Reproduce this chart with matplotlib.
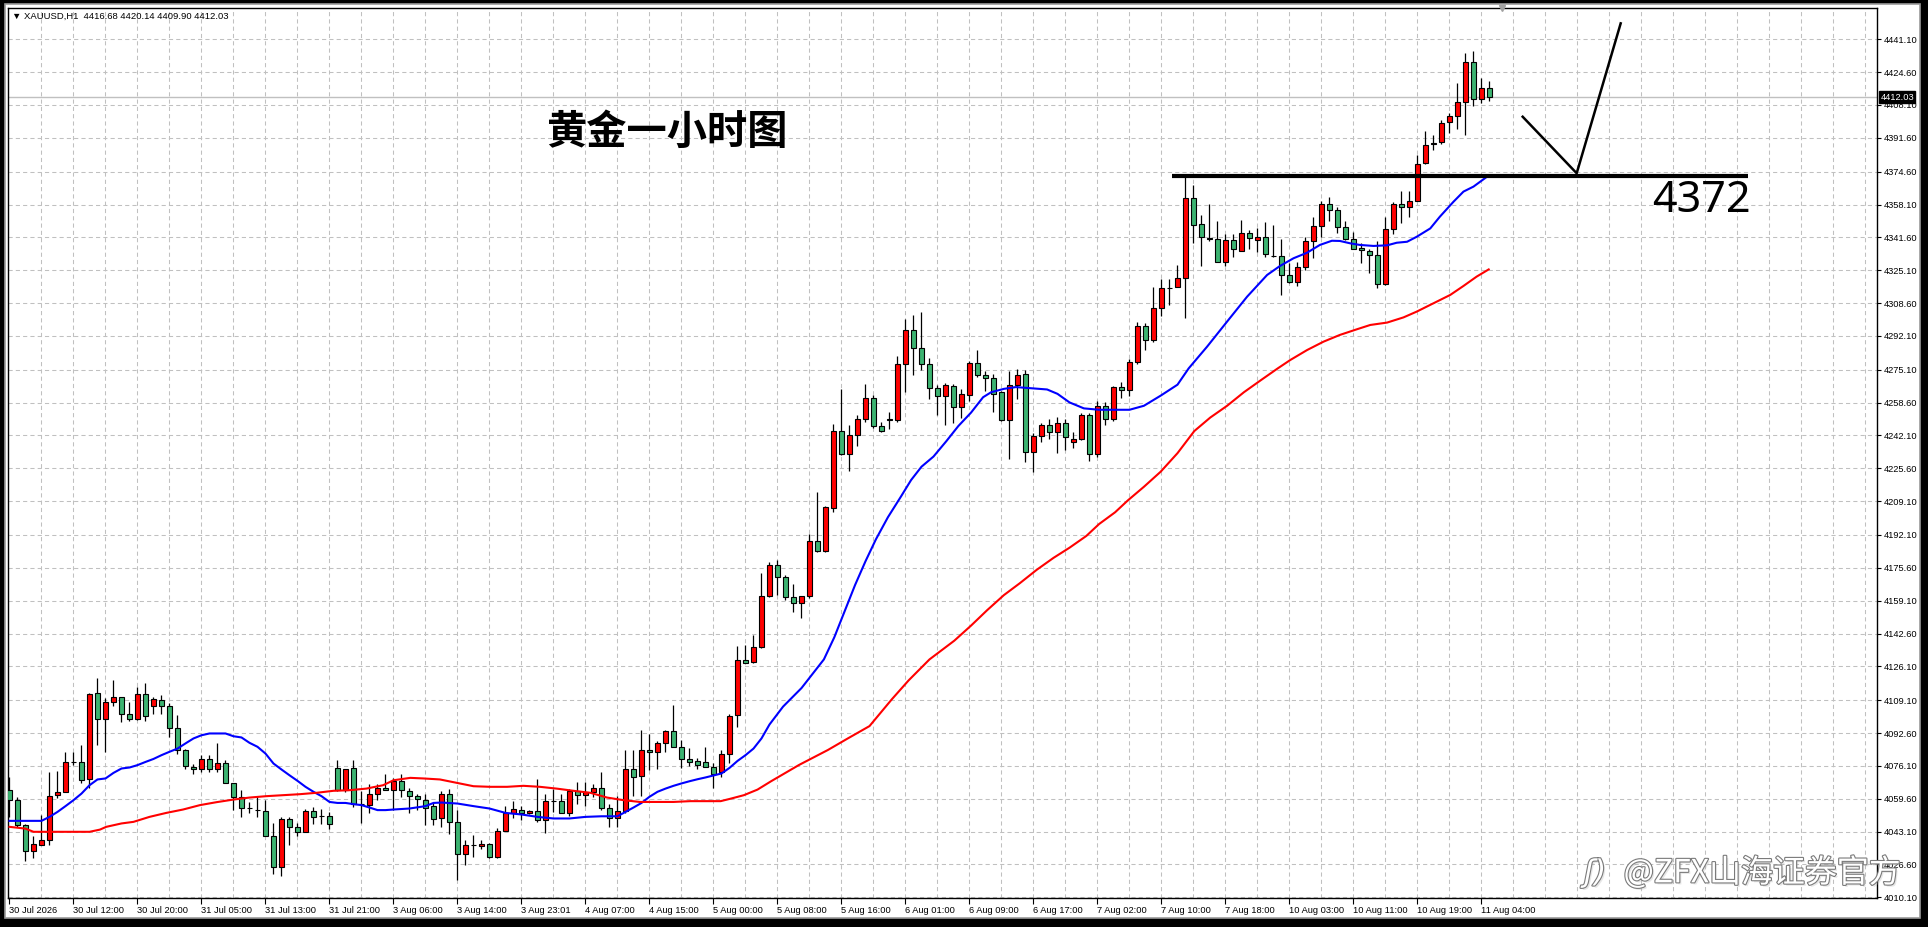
import matplotlib
matplotlib.use("Agg")
import matplotlib.pyplot as plt
import matplotlib.patheffects as pe
from matplotlib.patches import Rectangle

plt.rcParams['font.family'] = ['Liberation Sans', 'DejaVu Sans']

# --- XAUUSD H1 candles, bar 0 = 30 Jul 04:00 ---
bar_open = [
    4063.9, 4058.9, 4046.3, 4033.6, 4036.6, 4039.1, 4061.6, 4063.2, 4078.1, 4077.9,
    4069.3, 4112.5, 4099.9, 4108.0, 4110.8, 4102.4, 4099.9, 4112.0, 4106.1, 4109.0,
    4106.1, 4094.9, 4084.3, 4075.8, 4074.8, 4079.8, 4074.3, 4077.8, 4067.6, 4060.7,
    4055.2, 4054.2, 4053.7, 4040.8, 4025.5, 4049.2, 4045.6, 4043.0, 4053.7, 4051.0,
    4051.0, 4075.3, 4063.9, 4075.3, 4057.2, 4056.7, 4062.2, 4065.2, 4063.9, 4068.6,
    4063.6, 4061.2, 4059.2, 4055.9, 4049.7, 4062.2, 4047.7, 4032.1, 4036.3, 4036.1,
    4037.1, 4030.4, 4043.6, 4052.2, 4054.2, 4052.5, 4053.7, 4048.7, 4058.7, 4058.7,
    4052.5, 4063.7, 4061.7, 4063.2, 4065.2, 4055.2, 4049.7, 4053.7, 4074.8, 4071.1,
    4084.3, 4083.3, 4087.4, 4093.4, 4085.8, 4079.8, 4078.8, 4078.3, 4075.8, 4072.8,
    4082.3, 4101.6, 4129.3, 4128.3, 4135.6, 4161.6, 4177.2, 4170.9, 4160.7, 4158.0,
    4161.4, 4189.1, 4184.0, 4205.7, 4244.3, 4232.7, 4242.2, 4250.2, 4260.7, 4246.8,
    4250.2, 4249.9, 4278.2, 4295.2, 4286.2, 4278.2, 4265.9, 4262.1, 4266.8, 4256.2,
    4262.5, 4278.6, 4272.6, 4270.9, 4263.8, 4249.9, 4267.2, 4273.2, 4233.6, 4241.7,
    4247.3, 4243.8, 4248.5, 4238.8, 4240.5, 4252.3, 4232.9, 4256.7, 4250.2, 4266.4,
    4265.0, 4278.9, 4296.9, 4290.1, 4305.9, 4316.0, 4316.8, 4321.0, 4361.2, 4348.1,
    4341.1, 4340.9, 4329.1, 4340.1, 4334.9, 4343.6, 4340.1, 4341.6, 4332.4, 4332.1,
    4322.5, 4319.3, 4326.5, 4339.6, 4347.3, 4358.2, 4355.2, 4346.6, 4340.8, 4336.1,
    4334.7, 4332.6, 4318.0, 4345.6, 4358.2, 4357.0, 4360.0, 4378.8, 4388.3, 4389.7,
    4399.7, 4402.4, 4409.4, 4429.5, 4410.9, 4416.68,
]
bar_high = [
    4070.6, 4060.6, 4046.8, 4040.8, 4051.2, 4072.9, 4073.4, 4083.0, 4083.0, 4086.8,
    4112.8, 4120.2, 4110.0, 4119.2, 4110.8, 4108.3, 4115.5, 4117.5, 4110.8, 4111.6,
    4107.5, 4101.6, 4084.8, 4077.0, 4081.5, 4081.5, 4087.7, 4079.3, 4067.6, 4063.9,
    4058.0, 4061.1, 4059.2, 4047.2, 4050.5, 4050.5, 4047.2, 4054.7, 4055.5, 4054.7,
    4053.0, 4079.0, 4074.8, 4079.0, 4063.4, 4066.8, 4066.8, 4071.8, 4069.8, 4071.8,
    4065.2, 4062.2, 4062.2, 4058.0, 4063.6, 4064.7, 4053.9, 4039.1, 4041.3, 4039.1,
    4037.6, 4045.1, 4055.9, 4058.5, 4055.9, 4054.2, 4069.6, 4061.9, 4064.6, 4061.9,
    4064.6, 4067.8, 4067.8, 4066.8, 4072.9, 4057.2, 4061.1, 4084.3, 4084.3, 4094.0,
    4092.0, 4088.7, 4094.1, 4106.6, 4089.0, 4085.0, 4080.3, 4085.8, 4077.8, 4084.0,
    4102.4, 4136.1, 4136.8, 4141.9, 4173.0, 4178.6, 4179.7, 4172.1, 4167.5, 4161.4,
    4192.5, 4213.7, 4206.9, 4247.7, 4265.5, 4247.2, 4252.3, 4268.1, 4262.5, 4248.9,
    4254.0, 4282.2, 4300.7, 4302.5, 4304.2, 4281.1, 4267.2, 4268.6, 4268.1, 4265.5,
    4279.4, 4285.0, 4274.3, 4273.2, 4264.5, 4274.3, 4275.7, 4274.9, 4243.4, 4248.2,
    4250.2, 4251.4, 4250.2, 4243.8, 4253.3, 4253.6, 4259.2, 4258.7, 4266.9, 4269.2,
    4280.5, 4299.1, 4298.6, 4316.5, 4320.7, 4320.5, 4327.7, 4372.9, 4367.9, 4352.8,
    4358.4, 4349.8, 4343.3, 4343.3, 4350.2, 4345.3, 4346.4, 4349.1, 4347.6, 4340.8,
    4328.9, 4329.4, 4342.0, 4352.0, 4359.9, 4361.9, 4356.9, 4349.8, 4344.1, 4338.6,
    4335.6, 4339.6, 4352.0, 4359.2, 4364.9, 4365.1, 4383.0, 4395.2, 4392.8, 4400.6,
    4404.2, 4419.3, 4434.4, 4435.2, 4421.5, 4420.14,
]
bar_low = [
    4050.5, 4045.5, 4028.4, 4029.6, 4036.3, 4036.3, 4060.0, 4063.2, 4076.5, 4067.3,
    4065.2, 4086.5, 4083.2, 4106.3, 4098.2, 4098.7, 4099.1, 4098.7, 4102.4, 4102.4,
    4090.7, 4082.3, 4074.3, 4071.8, 4073.1, 4073.1, 4073.1, 4067.6, 4054.2, 4050.2,
    4052.2, 4050.5, 4040.8, 4022.0, 4020.9, 4036.6, 4041.0, 4043.0, 4046.8, 4046.8,
    4044.6, 4063.6, 4063.1, 4055.5, 4047.5, 4052.2, 4059.2, 4063.9, 4054.2, 4060.6,
    4052.2, 4054.2, 4046.3, 4046.3, 4045.5, 4042.1, 4018.7, 4026.5, 4030.4, 4034.4,
    4029.6, 4029.6, 4043.6, 4050.0, 4048.8, 4051.7, 4048.0, 4042.5, 4053.0, 4052.2,
    4051.0, 4056.9, 4055.9, 4060.6, 4054.2, 4045.5, 4045.5, 4052.5, 4060.9, 4060.9,
    4074.0, 4074.5, 4083.2, 4085.8, 4075.3, 4076.1, 4074.6, 4075.6, 4065.2, 4070.3,
    4077.6, 4095.7, 4127.6, 4128.0, 4135.1, 4161.0, 4161.9, 4159.4, 4153.4, 4150.4,
    4160.2, 4183.5, 4183.5, 4203.5, 4232.4, 4224.4, 4237.0, 4249.0, 4246.0, 4243.8,
    4245.5, 4249.0, 4263.8, 4272.6, 4274.9, 4260.4, 4252.4, 4247.2, 4248.5, 4251.1,
    4259.6, 4271.5, 4264.2, 4254.0, 4249.4, 4230.4, 4260.4, 4229.0, 4223.9, 4238.7,
    4240.4, 4233.2, 4234.6, 4235.8, 4240.0, 4229.5, 4231.5, 4247.2, 4249.4, 4260.7,
    4261.8, 4278.2, 4285.0, 4289.0, 4302.1, 4307.6, 4316.5, 4300.9, 4338.9, 4327.4,
    4339.8, 4329.1, 4327.4, 4331.9, 4334.9, 4335.9, 4334.4, 4331.9, 4331.6, 4312.8,
    4318.5, 4317.3, 4325.2, 4331.4, 4341.6, 4349.8, 4343.6, 4340.3, 4335.6, 4328.9,
    4323.9, 4316.0, 4317.7, 4343.1, 4349.0, 4351.7, 4359.7, 4378.5, 4385.5, 4388.3,
    4394.2, 4396.2, 4393.0, 4407.8, 4409.3, 4409.90,
]
bar_close = [
    4058.9, 4046.3, 4033.6, 4036.8, 4039.1, 4061.2, 4063.2, 4078.3, 4077.9, 4068.8,
    4112.1, 4099.9, 4108.0, 4110.5, 4102.4, 4099.9, 4112.0, 4101.4, 4109.5, 4106.1,
    4094.9, 4084.3, 4076.3, 4074.8, 4079.8, 4074.3, 4077.8, 4067.6, 4060.7, 4055.2,
    4055.0, 4054.0, 4040.8, 4025.5, 4049.2, 4045.6, 4043.0, 4053.7, 4050.5, 4051.0,
    4046.8, 4063.9, 4074.8, 4057.2, 4057.2, 4062.2, 4065.2, 4063.9, 4068.6, 4063.9,
    4061.2, 4059.7, 4055.2, 4049.2, 4062.2, 4047.7, 4032.1, 4036.3, 4036.2, 4037.1,
    4030.4, 4043.6, 4052.2, 4054.7, 4052.5, 4053.7, 4049.0, 4058.7, 4058.7, 4052.5,
    4063.7, 4061.7, 4063.1, 4065.2, 4055.2, 4049.7, 4053.7, 4074.8, 4070.6, 4084.3,
    4083.3, 4087.5, 4093.4, 4085.8, 4079.8, 4078.3, 4076.8, 4075.8, 4072.1, 4082.3,
    4101.4, 4129.3, 4128.0, 4135.6, 4161.6, 4177.2, 4170.9, 4160.7, 4158.0, 4161.4,
    4189.1, 4184.0, 4206.1, 4244.3, 4232.7, 4242.2, 4250.2, 4260.7, 4246.8, 4244.3,
    4249.9, 4277.9, 4295.2, 4286.2, 4278.2, 4265.9, 4262.1, 4267.2, 4256.2, 4262.8,
    4278.6, 4272.6, 4270.9, 4263.0, 4249.9, 4267.2, 4272.6, 4233.6, 4241.7, 4247.3,
    4243.8, 4248.5, 4241.4, 4240.5, 4252.3, 4232.9, 4256.7, 4250.2, 4266.4, 4265.0,
    4278.9, 4296.9, 4290.1, 4305.9, 4316.0, 4316.3, 4321.0, 4361.2, 4347.6, 4341.6,
    4340.6, 4329.1, 4340.1, 4335.6, 4343.6, 4341.1, 4341.6, 4333.1, 4332.1, 4322.5,
    4319.3, 4326.5, 4339.6, 4347.3, 4358.2, 4355.2, 4346.6, 4340.8, 4335.6, 4335.1,
    4332.6, 4318.0, 4345.6, 4358.2, 4356.7, 4360.0, 4378.3, 4387.8, 4389.2, 4399.2,
    4402.4, 4409.6, 4429.5, 4410.9, 4416.5, 4412.03,
]

# moving averages at (bar position, price)
ma_fast_x = [0, 4, 5, 6, 7, 8, 9, 10, 11, 12, 13, 14, 15, 16, 17, 18, 19, 20, 21, 22,
             23, 24, 25, 26, 27, 28, 29, 30, 31, 32, 33, 34, 35, 36, 37, 38, 39, 40, 41, 42,
             43, 44, 45, 46, 47, 48, 50, 52, 53, 54, 56, 58, 60, 62, 64, 66, 68, 70, 72, 74,
             76, 77, 78, 79, 80, 81, 82, 83, 84, 85, 86, 87, 88, 89, 90, 91, 92, 93, 94, 95,
             96.7, 99, 100.5, 101.8, 103.1, 104.7, 105.7, 107, 108.3, 109.8, 111.4, 112.7,
             114, 115.5, 117.1, 118.6, 120.2, 121.7, 122.7, 124.3, 125.8, 127.4, 129.7, 131,
             132.5, 134.3, 136.2, 138.2, 140, 141.8, 143.9, 146, 147.4, 149.7, 152.2, 154.7,
             157.2, 158.8, 160.5, 162.2, 163.8, 165.3, 166.3, 167.6, 168.8, 170.5, 172.2,
             173.4, 174.7, 175.9, 177.6, 178.8, 180.5, 181.75, 183, 184.7]
ma_fast_val = [4048.5, 4048.5, 4050.5, 4053.0, 4055.9, 4058.9, 4062.2, 4066.4, 4069.3, 4069.8,
               4072.6, 4074.8, 4075.3, 4076.5, 4078.1, 4079.6, 4081.5, 4083.2, 4084.8, 4087.4,
               4089.9, 4091.5, 4092.4, 4092.4, 4092.4, 4091.0, 4090.4, 4087.7, 4085.7, 4082.3,
               4077.3, 4074.3, 4071.4, 4068.6, 4065.6, 4063.1, 4060.9, 4058.0, 4057.5, 4057.5,
               4056.9, 4056.4, 4055.2, 4053.9, 4053.9, 4054.2, 4054.7, 4055.9, 4057.5, 4057.7,
               4057.2, 4055.9, 4054.7, 4052.5, 4051.7, 4050.5, 4049.7, 4049.7, 4050.5, 4050.8,
               4050.8, 4053.0, 4055.2, 4057.5, 4060.6, 4063.1, 4064.7, 4066.1, 4067.3, 4068.4,
               4069.4, 4070.3, 4071.3, 4072.3, 4075.1, 4078.6, 4081.5, 4084.8, 4089.9, 4096.9,
               4105.9, 4115.2, 4122.9, 4129.6, 4140.7, 4156.8, 4167.0, 4178.9, 4189.9, 4201.0,
               4211.2, 4219.7, 4226.4, 4231.5, 4239.2, 4246.8, 4253.6, 4261.3, 4263.8, 4265.5,
               4266.4, 4265.9, 4265.2, 4263.0, 4258.7, 4255.7, 4255.0, 4255.0, 4255.0, 4257.0,
               4262.1, 4267.6, 4275.8, 4286.7, 4299.3, 4311.8, 4322.7, 4327.2, 4331.1, 4333.9,
               4337.8, 4339.9, 4339.8, 4338.6, 4337.8, 4337.3, 4337.6, 4338.9, 4339.4, 4341.9,
               4346.1, 4352.0, 4359.5, 4364.6, 4367.1, 4372.1]

ma_slow_x = [0, 2, 3, 5, 7, 10, 11.3, 12.1, 14, 15.5, 17.5, 19.6, 21.7, 23.8, 25.9, 28, 30,
             32.1, 34.2, 36.3, 38.4, 40.5, 42.5, 44.6, 46.7, 48, 50.1, 51.75, 53.8, 55.9, 58,
             60.1, 62.2, 64.25, 66.3, 68.4, 70.5, 72.6, 74.7, 76.75, 78.8, 80.9, 83, 85.1,
             87.2, 88.9, 90.2, 91.8, 93.5, 95.2, 98.7, 102.3, 104.7, 107.5, 110.3, 112.4, 115,
             118.1, 120.2, 122.2, 124.3, 126.3, 128.4, 130.5, 132.5, 134.6, 136.2, 138.2,
             139.8, 141.8, 143.9, 146, 148.1, 150.1, 152.2, 154.3, 156.4, 158.5, 160.1, 162.2,
             164.25, 166.3, 168.4, 170.1, 172.2, 174.25, 175.9, 178, 180.1, 181.75, 183.4,
             184.9]
ma_slow_val = [4045.5, 4044.6, 4043.0, 4043.0, 4043.0, 4043.0, 4044.1, 4045.5, 4047.2, 4048.0,
               4050.5, 4052.5, 4054.2, 4056.4, 4057.9, 4059.2, 4060.2, 4060.9, 4061.4, 4061.9,
               4062.6, 4063.6, 4063.9, 4064.7, 4066.4, 4068.9, 4070.1, 4069.8, 4069.3, 4067.6,
               4065.9, 4065.6, 4065.6, 4066.1, 4065.6, 4064.7, 4063.6, 4062.6, 4060.2, 4058.9,
               4058.0, 4058.0, 4058.0, 4058.4, 4058.4, 4058.4, 4059.7, 4061.4, 4064.2, 4068.4,
               4076.6, 4084.1, 4089.7, 4096.1, 4109.6, 4119.1, 4129.6, 4139.0, 4146.6, 4154.3,
               4161.9, 4167.9, 4174.6, 4180.6, 4185.7, 4191.6, 4197.6, 4203.5, 4209.5, 4216.3,
               4223.9, 4233.2, 4244.3, 4251.1, 4257.0, 4263.8, 4269.8, 4275.7, 4280.0, 4285.0,
               4289.2, 4292.6, 4295.4, 4297.6, 4298.8, 4301.4, 4304.3, 4308.5, 4312.7, 4317.2,
               4321.9, 4325.5]

price_labels = [4441.10, 4424.60, 4408.10, 4391.60, 4374.60, 4358.10, 4341.60, 4325.10,
                4308.60, 4292.10, 4275.10, 4258.60, 4242.10, 4225.60, 4209.10, 4192.10,
                4175.60, 4159.10, 4142.60, 4126.10, 4109.10, 4092.60, 4076.10, 4059.60,
                4043.10, 4026.60, 4010.10]
time_labels = ["30 Jul 2026", "30 Jul 12:00", "30 Jul 20:00", "31 Jul 05:00", "31 Jul 13:00",
               "31 Jul 21:00", "3 Aug 06:00", "3 Aug 14:00", "3 Aug 23:01", "4 Aug 07:00",
               "4 Aug 15:00", "5 Aug 00:00", "5 Aug 08:00", "5 Aug 16:00", "6 Aug 01:00",
               "6 Aug 09:00", "6 Aug 17:00", "7 Aug 02:00", "7 Aug 10:00", "7 Aug 18:00",
               "10 Aug 03:00", "10 Aug 11:00", "10 Aug 19:00", "11 Aug 04:00"]
time_label_step = 8

header = "XAUUSD,H1  4416.68 4420.14 4409.90 4412.03"
last_price = 4412.03
title_text = "黄金一小时图"
level_price = 4372.6
level_label = "4372"
level_span = [145.3, 217.3]
check_x = [189.15, 195.9, 201.4]
check_y = [4402.2, 4373.8, 4449.1]
watermark = "@ZFX山海证券官方"
watermark_logo = "ʃ)"

W, H = 1928, 927
BULL = '#ff0000'
BEAR = '#3cb371'
GRID = '#c0c0c0'

fig = plt.figure(figsize=(W / 100, H / 100), dpi=100, facecolor='black')
fig.patches.append(Rectangle((5 / W, 1 - 918 / H), (1920 - 5) / W, (918 - 4) / H,
                             transform=fig.transFigure, facecolor='white',
                             edgecolor='#9a9a9a', linewidth=1.2, zorder=-5))

ax = fig.add_axes([7.5 / W, 1 - 898 / H, (1877 - 7.5) / W, (898 - 7.5) / H])
ax.set_facecolor('white')
ax.set_xlim(-0.25, 233.44)
ax.set_ylim(4009.75, 4457.07)
for s in ax.spines.values():
    s.set_color('black')
    s.set_linewidth(1.0)

# grid
for p in price_labels:
    ax.axhline(p, color=GRID, lw=0.75, ls=(0, (4, 3)), zorder=0)
for b in range(4, 234, 4):
    ax.axvline(b, color=GRID, lw=0.75, ls=(0, (4, 3)), zorder=0)
ax.axhline(last_price, color=GRID, lw=1.0, zorder=1)

# candles
n = len(bar_open)
xs = list(range(n))
ax.vlines(xs, bar_low, bar_high, color='black', lw=0.9, zorder=2)
bottoms = [min(o, c) for o, c in zip(bar_open, bar_close)]
heights = [abs(c - o) for o, c in zip(bar_open, bar_close)]
colors = [BULL if c >= o else BEAR for o, c in zip(bar_open, bar_close)]
ax.bar(xs, heights, bottom=bottoms, width=0.58, color=colors,
       edgecolor='black', linewidth=0.8, zorder=3)

# moving averages
ax.plot(ma_fast_x, ma_fast_val, color='#0000ff', lw=1.5, zorder=4)
ax.plot(ma_slow_x, ma_slow_val, color='#ff0000', lw=1.5, zorder=4)

# hand-drawn annotations
ax.plot(level_span, [level_price, level_price], color='black', lw=3.0,
        solid_capstyle='butt', zorder=5)
ax.plot(check_x, check_y, color='black', lw=1.8, zorder=5)
ax.text(217.6, 4354.3, level_label, fontsize=31, family=['Noto Sans', 'DejaVu Sans'],
        ha='right', va='baseline', color='black', zorder=6)
ax.text(82.2, 4394.3, title_text, fontsize=29, weight='bold',
        family=['Noto Sans CJK SC', 'DejaVu Sans'],
        ha='center', va='center', color='black', zorder=6)

# axes ticks
ax.yaxis.tick_right()
ax.set_yticks(price_labels)
ax.set_yticklabels([f"{p:.2f}" for p in price_labels])
ax.set_xticks([i * time_label_step for i in range(len(time_labels))])
ax.set_xticklabels(time_labels)
ax.tick_params(axis='y', direction='out', length=3, width=0.8, labelsize=6.7, pad=2)
ax.tick_params(axis='x', direction='out', length=4, width=0.8, labelsize=6.7, pad=2)
for lbl in ax.get_xticklabels():
    lbl.set_ha('left')

# last price tag on the price axis
ax.text(1.0018, last_price, f"{last_price:.2f}", transform=ax.get_yaxis_transform(),
        fontsize=6.7, color='white', ha='left', va='center', zorder=10, clip_on=False,
        bbox=dict(facecolor='black', edgecolor='black', pad=1.0))

# header
ax.text(0.0022, 0.9905, "\u25bc " + header, transform=ax.transAxes, fontsize=6.8,
        ha='left', va='center', color='black', zorder=10,
        family=['Liberation Sans', 'DejaVu Sans'])
ax.plot([186.6], [1.0], transform=ax.get_xaxis_transform(), marker='v', ms=5,
        color='#a0a0a0', clip_on=False, zorder=10)

# watermark
wm_effects = [pe.withSimplePatchShadow(offset=(1.5, -1.5), shadow_rgbFace='#b0b0b0'),
              pe.withStroke(linewidth=1.6, foreground='#7a7a7a')]
fig.text(1901 / W, 1 - 873 / H, watermark, fontsize=23, color='white',
         family=['Noto Sans CJK SC', 'DejaVu Sans'], ha='right', va='center', zorder=20,
         path_effects=wm_effects)
fig.text(1584 / W, 1 - 873 / H, watermark_logo, fontsize=22, color='white',
         family=['DejaVu Sans'], style='italic', ha='left', va='center', zorder=20,
         path_effects=wm_effects)

fig.savefig("out.png", dpi=100, facecolor=fig.get_facecolor())
